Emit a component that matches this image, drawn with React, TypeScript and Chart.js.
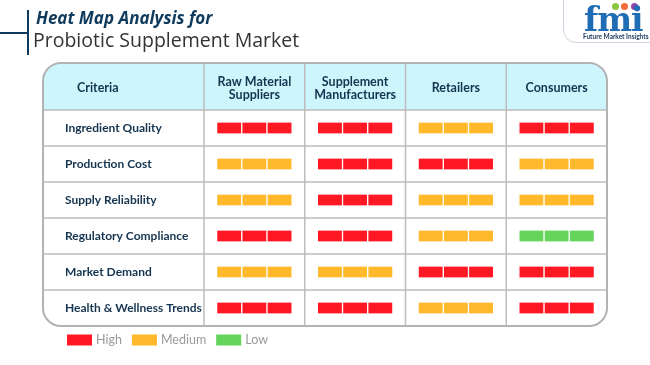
import React, { useEffect, useRef } from 'react';
import { Chart, registerables } from 'chart.js';

Chart.register(...registerables);

// ---------- data ----------
const criteria = [
  'Ingredient Quality',
  'Production Cost',
  'Supply Reliability',
  'Regulatory Compliance',
  'Market Demand',
  'Health & Wellness Trends',
];
const stakeholders: (string | string[])[] = [
  ['Raw Material', 'Suppliers'],
  ['Supplement', 'Manufacturers'],
  'Retailers',
  'Consumers',
];
const rawMaterialSuppliers = ['High', 'Medium', 'Medium', 'High', 'Medium', 'High'];
const supplementManufacturers = ['High', 'High', 'High', 'High', 'Medium', 'High'];
const retailers = ['Medium', 'High', 'Medium', 'Medium', 'High', 'Medium'];
const consumers = ['High', 'Medium', 'Medium', 'Low', 'High', 'High'];
const levels = ['High', 'Medium', 'Low'];
const levelColors = ['#ff1723', '#ffb92b', '#64d55a'];
const segmentsPerCell = 3;

// ---------- layout / style ----------
const W = 650;
const H = 365;
const TABLE_LEFT = 43;
const HEADER_H = 47;
const RADIUS = 18;
const NAVY = '#15344f';
const SEG = 0.25;
const FONT = 'Lato';

const columns = [rawMaterialSuppliers, supplementManufacturers, retailers, consumers];

function roundRectPath(ctx: CanvasRenderingContext2D, x: number, y: number, w: number, h: number, r: number) {
  ctx.beginPath();
  ctx.moveTo(x + r, y);
  ctx.lineTo(x + w - r, y);
  ctx.arcTo(x + w, y, x + w, y + r, r);
  ctx.lineTo(x + w, y + h - r);
  ctx.arcTo(x + w, y + h, x + w - r, y + h, r);
  ctx.lineTo(x + r, y + h);
  ctx.arcTo(x, y + h, x, y + h - r, r);
  ctx.lineTo(x, y + r);
  ctx.arcTo(x, y, x + r, y, r);
  ctx.closePath();
}

const tablePlugin = {
  id: 'tableFrame',
  beforeDraw(chart: any) {
    const { ctx, chartArea: ca, scales } = chart;
    const xs = scales.x;
    const ys = scales.y;
    const L = TABLE_LEFT;
    const T = ca.top - HEADER_H;
    const R = ca.right;
    const B = ca.bottom;
    ctx.save();
    roundRectPath(ctx, L, T, R - L, B - T, RADIUS);
    ctx.fillStyle = '#fff';
    ctx.fill();
    ctx.save();
    ctx.clip();
    ctx.fillStyle = '#cdf6fc';
    ctx.fillRect(L, T, R - L, ca.top - T);
    ctx.strokeStyle = '#bdbdbd';
    ctx.lineWidth = 1.5;
    // row boundaries
    for (let i = 0; i < criteria.length; i++) {
      const yy = i === 0 ? ca.top : (ys.getPixelForValue(i - 1) + ys.getPixelForValue(i)) / 2;
      ctx.beginPath();
      ctx.moveTo(L, yy);
      ctx.lineTo(R, yy);
      ctx.stroke();
    }
    // column boundaries
    for (let c = 0; c < columns.length; c++) {
      const xx = xs.getPixelForValue(c);
      ctx.beginPath();
      ctx.moveTo(xx, T);
      ctx.lineTo(xx, B);
      ctx.stroke();
    }
    ctx.restore();
    roundRectPath(ctx, L, T, R - L, B - T, RADIUS);
    ctx.strokeStyle = '#b3b3b3';
    ctx.lineWidth = 2;
    ctx.stroke();
    // header "Criteria"
    ctx.fillStyle = NAVY;
    ctx.font = `bold 12.5px ${FONT}`;
    ctx.textAlign = 'left';
    ctx.textBaseline = 'middle';
    ctx.fillText('Criteria', 77, (T + ca.top) / 2 + 1);
    ctx.restore();
  },
  afterDraw(chart: any) {
    const { ctx, chartArea: ca } = chart;
    const cy = ca.bottom + 14;
    let x = 67;
    ctx.save();
    ctx.font = `12.5px ${FONT}`;
    ctx.textBaseline = 'middle';
    ctx.textAlign = 'left';
    levels.forEach((lv, i) => {
      ctx.fillStyle = levelColors[i];
      ctx.fillRect(x, cy - 5.5, 25, 11);
      x += 29;
      ctx.fillStyle = '#9a9a9a';
      ctx.fillText(lv, x, cy);
      x += ctx.measureText(lv).width + 10;
    });
    ctx.restore();
  },
};

export default function App() {
  const ref = useRef<HTMLCanvasElement | null>(null);

  useEffect(() => {
    if (!ref.current) return;
    const points: any[] = [];
    const colors: string[] = [];
    const start0 = (1 - segmentsPerCell * SEG) / 2;
    columns.forEach((col, c) => {
      col.forEach((lvl, r) => {
        for (let s = 0; s < segmentsPerCell; s++) {
          points.push({ x: [c + start0 + s * SEG, c + start0 + (s + 1) * SEG], y: criteria[r] });
          colors.push(levelColors[levels.indexOf(lvl)]);
        }
      });
    });

    const chart = new Chart(ref.current, {
      type: 'bar',
      data: {
        labels: criteria,
        datasets: [
          {
            data: points,
            backgroundColor: colors,
            borderColor: '#ffffff',
            borderWidth: { left: 1, right: 1, top: 0, bottom: 0 },
            borderSkipped: false,
            barThickness: 11,
          } as any,
        ],
      },
      options: {
        indexAxis: 'y',
        responsive: false,
        animation: false,
        events: [],
        layout: { padding: { left: 65, top: 63, right: 43, bottom: 39 } },
        plugins: { legend: { display: false }, tooltip: { enabled: false } },
        scales: {
          x: { type: 'linear', min: 0, max: columns.length, display: false },
          x2: {
            type: 'category',
            axis: 'x',
            position: 'top',
            labels: stakeholders as any,
            offset: true,
            grid: { display: false, drawTicks: false },
            border: { display: false },
            ticks: {
              color: NAVY,
              font: { family: FONT, size: 12.5, weight: 'bold', lineHeight: 1.05 },
              padding: 15,
              crossAlign: 'center',
              maxRotation: 0,
              autoSkip: false,
            },
            afterFit: (s: any) => {
              s.height = HEADER_H;
            },
          } as any,
          y: {
            type: 'category',
            position: 'left',
            offset: true,
            grid: { display: false, drawTicks: false },
            border: { display: false },
            ticks: {
              color: NAVY,
              font: { family: FONT, size: 12, weight: 'bold' },
              crossAlign: 'far',
              autoSkip: false,
            },
            afterFit: (s: any) => {
              s.width = 139;
            },
          } as any,
        },
      },
      plugins: [tablePlugin],
    });
    return () => chart.destroy();
  }, []);

  return (
    <div style={{ position: 'fixed', left: 0, top: 0, width: W, height: H, background: '#fff', overflow: 'hidden' }}>
      <canvas ref={ref} width={W} height={H} style={{ position: 'absolute', left: 0, top: 0 }} />
      {/* title */}
      <div style={{ position: 'absolute', left: 0, top: 32, width: 28, height: 1.5, background: '#0e3a5d' }} />
      <div style={{ position: 'absolute', left: 27, top: 10, width: 2, height: 45, background: '#0e3a5d' }} />
      <div
        style={{
          position: 'absolute', left: 36, top: 9, fontFamily: 'Open Sans', fontStyle: 'italic', fontWeight: 700,
          fontSize: 17, lineHeight: 1, color: '#0e3a5d', whiteSpace: 'nowrap',
        }}
      >
        Heat Map Analysis for
      </div>
      <div
        style={{
          position: 'absolute', left: 33, top: 30, fontFamily: 'Open Sans', fontWeight: 400,
          fontSize: 19.5, lineHeight: 1, color: '#333', whiteSpace: 'nowrap',
        }}
      >
        Probiotic Supplement Market
      </div>
      {/* logo */}
      <div
        style={{
          position: 'absolute', left: 563, top: -14, width: 110, height: 55,
          border: '1.5px solid #c9d3dd', borderRadius: 13, background: '#fff',
        }}
      />
      <div style={{ position: 'absolute', left: 612, top: 3, width: 7, height: 7, borderRadius: 4, background: '#8cc63f' }} />
      <div style={{ position: 'absolute', left: 621, top: 3, width: 7, height: 7, borderRadius: 4, background: '#f26b3a' }} />
      <div style={{ position: 'absolute', left: 631, top: 3, width: 7, height: 7, borderRadius: 4, background: '#8e44ad' }} />
      <div
        style={{
          position: 'absolute', left: 584, top: 3, fontFamily: 'DejaVu Serif', fontWeight: 700, fontSize: 33,
          lineHeight: 1, color: '#1f6db5', letterSpacing: -1, whiteSpace: 'nowrap',
        }}
      >
        fmi
      </div>
      <div
        style={{
          position: 'absolute', left: 583, top: 34, fontFamily: 'Lato', fontWeight: 700, fontSize: 6.5,
          lineHeight: 1, color: '#1b365d', whiteSpace: 'nowrap',
        }}
      >
        Future Market Insights
      </div>
    </div>
  );
}
